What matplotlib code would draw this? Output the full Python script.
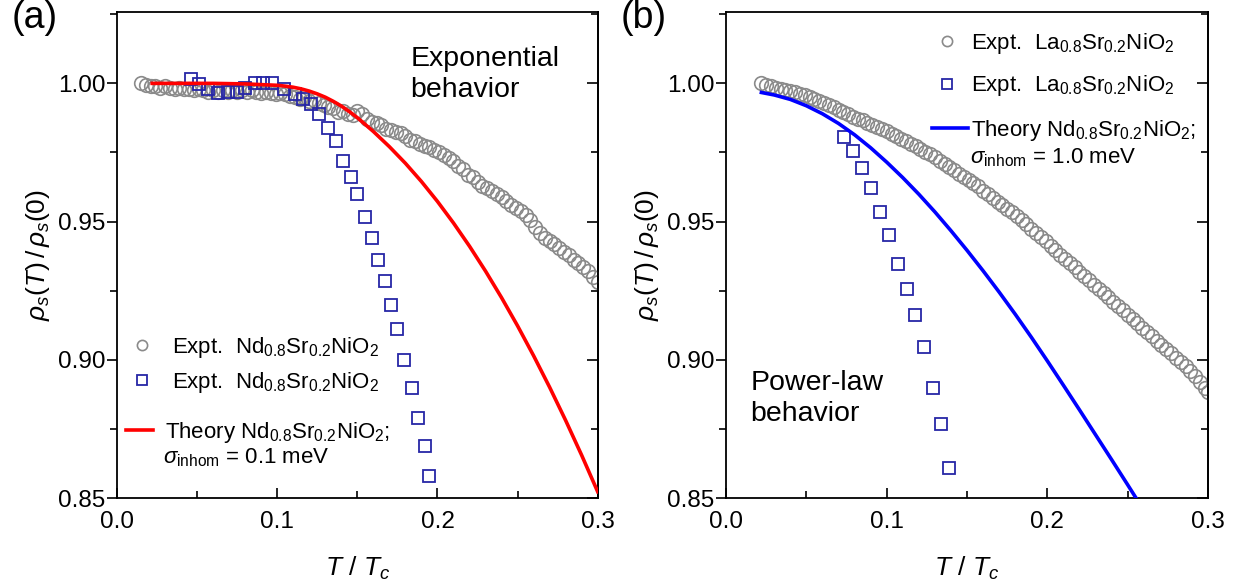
import numpy as np
import matplotlib.pyplot as plt
from matplotlib.ticker import MultipleLocator

plt.rcParams['font.family'] = 'Liberation Sans'
plt.rcParams['mathtext.fontset'] = 'custom'
plt.rcParams['mathtext.rm'] = 'Liberation Sans'
plt.rcParams['mathtext.it'] = 'Liberation Sans:italic'
plt.rcParams['mathtext.bf'] = 'Liberation Sans:bold'

# (a) Nd0.8Sr0.2NiO2 : circles
nd_circ_t = [0.015, 0.018, 0.021, 0.024, 0.027, 0.030, 0.033, 0.036, 0.039, 0.042,
             0.045, 0.048, 0.051, 0.054, 0.057, 0.060, 0.063, 0.066, 0.069, 0.072,
             0.075, 0.078, 0.081, 0.084, 0.087, 0.090, 0.093, 0.096, 0.099, 0.102,
             0.105, 0.108, 0.111, 0.114, 0.117, 0.120, 0.123, 0.126, 0.129, 0.132,
             0.135, 0.138, 0.141, 0.144, 0.147, 0.150, 0.153, 0.156, 0.159, 0.162,
             0.165, 0.168, 0.171, 0.174, 0.177, 0.180, 0.183, 0.186, 0.189, 0.192,
             0.195, 0.198, 0.201, 0.204, 0.207, 0.210, 0.213, 0.216, 0.219, 0.222,
             0.225, 0.228, 0.231, 0.234, 0.237, 0.240, 0.243, 0.246, 0.249, 0.252,
             0.255, 0.258, 0.261, 0.264, 0.267, 0.270, 0.273, 0.276, 0.279, 0.282,
             0.285, 0.288, 0.291, 0.294, 0.297, 0.300]
nd_circ_v = [1.0000, 0.9995, 0.9990, 0.9990, 0.9985, 0.9990, 0.9985, 0.9980, 0.9985, 0.9980,
             0.9980, 0.9975, 0.9980, 0.9975, 0.9970, 0.9975, 0.9970, 0.9975, 0.9970, 0.9975,
             0.9970, 0.9975, 0.9970, 0.9975, 0.9970, 0.9965, 0.9970, 0.9965, 0.9960, 0.9965,
             0.9960, 0.9955, 0.9950, 0.9945, 0.9950, 0.9935, 0.9940, 0.9930, 0.9920, 0.9915,
             0.9910, 0.9895, 0.9900, 0.9890, 0.9885, 0.9900, 0.9890, 0.9870, 0.9860, 0.9855,
             0.9850, 0.9835, 0.9830, 0.9825, 0.9820, 0.9810, 0.9795, 0.9790, 0.9780, 0.9775,
             0.9770, 0.9760, 0.9750, 0.9740, 0.9730, 0.9720, 0.9700, 0.9690, 0.9670, 0.9660,
             0.9645, 0.9630, 0.9620, 0.9610, 0.9600, 0.9590, 0.9575, 0.9560, 0.9550, 0.9540,
             0.9525, 0.9505, 0.9480, 0.9460, 0.9440, 0.9430, 0.9420, 0.9405, 0.9390, 0.9380,
             0.9360, 0.9350, 0.9335, 0.9320, 0.9300, 0.9280]

# (a) Nd0.8Sr0.2NiO2 : squares
nd_sq_t = [0.046, 0.051, 0.057, 0.063, 0.069, 0.075, 0.080, 0.086, 0.091, 0.097,
           0.104, 0.111, 0.116, 0.121, 0.126, 0.132, 0.137, 0.141, 0.146, 0.150,
           0.155, 0.159, 0.163, 0.167, 0.171, 0.175, 0.179, 0.184, 0.188, 0.192, 0.195]
nd_sq_v = [1.0014, 0.9996, 0.9980, 0.9964, 0.9970, 0.9970, 0.9985, 1.0000, 1.0000, 1.0000,
           0.9980, 0.9963, 0.9945, 0.9925, 0.9890, 0.9840, 0.9790, 0.9720, 0.9660, 0.9600,
           0.9516, 0.9440, 0.9360, 0.9285, 0.9200, 0.9110, 0.9000, 0.8900, 0.8790, 0.8690, 0.8580]

# (a) theory, sigma_inhom = 0.1 meV
th_a_t = [0.022, 0.04, 0.06, 0.08, 0.10, 0.105, 0.11, 0.115, 0.12, 0.125, 0.13, 0.135,
          0.14, 0.145, 0.15, 0.16, 0.17, 0.18, 0.19, 0.20, 0.21, 0.22, 0.23, 0.24,
          0.25, 0.26, 0.27, 0.28, 0.29, 0.30]
th_a_v = [1.0000, 1.0000, 1.0000, 0.9998, 0.9993, 0.9990, 0.9986, 0.9980, 0.9972, 0.9962,
          0.9950, 0.9935, 0.9918, 0.9898, 0.9876, 0.9826, 0.9771, 0.9711, 0.9645, 0.9573,
          0.9495, 0.9411, 0.9321, 0.9225, 0.9123, 0.9015, 0.8901, 0.8781, 0.8655, 0.8523]

# (b) La0.8Sr0.2NiO2 : circles
la_circ_t = [0.022, 0.025, 0.028, 0.031, 0.034, 0.037, 0.040, 0.043, 0.046, 0.049,
             0.052, 0.055, 0.058, 0.061, 0.064, 0.067, 0.070, 0.073, 0.076, 0.079,
             0.082, 0.085, 0.088, 0.091, 0.094, 0.097, 0.100, 0.103, 0.106, 0.109,
             0.112, 0.115, 0.118, 0.121, 0.124, 0.127, 0.130, 0.133, 0.136, 0.139,
             0.142, 0.145, 0.148, 0.151, 0.154, 0.157, 0.160, 0.163, 0.166, 0.169,
             0.172, 0.175, 0.178, 0.181, 0.184, 0.187, 0.190, 0.193, 0.196, 0.199,
             0.202, 0.205, 0.208, 0.211, 0.214, 0.217, 0.220, 0.223, 0.226, 0.229,
             0.232, 0.235, 0.238, 0.241, 0.244, 0.247, 0.250, 0.253, 0.256, 0.259,
             0.262, 0.265, 0.268, 0.271, 0.274, 0.277, 0.280, 0.283, 0.286, 0.289,
             0.292, 0.295, 0.298, 0.300]
la_circ_v = [1.0000, 0.9995, 0.9990, 0.9985, 0.9980, 0.9975, 0.9972, 0.9968, 0.9962, 0.9958,
             0.9950, 0.9943, 0.9938, 0.9930, 0.9922, 0.9915, 0.9905, 0.9897, 0.9890, 0.9880,
             0.9872, 0.9866, 0.9858, 0.9850, 0.9843, 0.9834, 0.9827, 0.9818, 0.9810, 0.9800,
             0.9790, 0.9782, 0.9772, 0.9762, 0.9752, 0.9745, 0.9733, 0.9720, 0.9708, 0.9697,
             0.9685, 0.9672, 0.9662, 0.9650, 0.9640, 0.9628, 0.9612, 0.9600, 0.9587, 0.9572,
             0.9560, 0.9547, 0.9533, 0.9520, 0.9505, 0.9492, 0.9475, 0.9460, 0.9443, 0.9429,
             0.9412, 0.9398, 0.9381, 0.9366, 0.9350, 0.9335, 0.9318, 0.9304, 0.9288, 0.9272,
             0.9257, 0.9241, 0.9226, 0.9210, 0.9194, 0.9179, 0.9163, 0.9148, 0.9132, 0.9116,
             0.9101, 0.9085, 0.9070, 0.9054, 0.9038, 0.9023, 0.9007, 0.8992, 0.8976, 0.8960,
             0.8940, 0.8920, 0.8900, 0.8885]

# (b) La0.8Sr0.2NiO2 : squares
la_sq_t = [0.0734, 0.079, 0.0846, 0.090, 0.096, 0.1015, 0.107, 0.1125, 0.1176, 0.123,
           0.1288, 0.134, 0.139]
la_sq_v = [0.9805, 0.9754, 0.9693, 0.9620, 0.9534, 0.9450, 0.9345, 0.9255, 0.9164, 0.9045,
           0.8900, 0.8767, 0.8610]

# (b) theory, sigma_inhom = 1.0 meV
th_b_t = [0.022, 0.03, 0.04, 0.05, 0.06, 0.07, 0.08, 0.09, 0.10, 0.11, 0.12, 0.13, 0.14,
          0.15, 0.16, 0.17, 0.18, 0.19, 0.20, 0.21, 0.22, 0.23, 0.24, 0.25, 0.26]
th_b_v = [0.9967, 0.9958, 0.9942, 0.9919, 0.9890, 0.9855, 0.9814, 0.9767, 0.9715, 0.9659,
          0.9599, 0.9535, 0.9467, 0.9396, 0.9322, 0.9245, 0.9165, 0.9082, 0.8996, 0.8908,
          0.8819, 0.8729, 0.8639, 0.8548, 0.8456]

gray = '#8a8a8a'
navy = '#2626a6'
fs = 17.5
lfs = 16

fig = plt.figure(figsize=(12.39, 5.86), dpi=100)
ax1 = fig.add_axes([0.0944, 0.150, 0.388, 0.829])
ax2 = fig.add_axes([0.586, 0.150, 0.389, 0.829])


def style(ax):
    ax.set_xlim(0, 0.3)
    ax.set_ylim(0.85, 1.0257)
    ax.xaxis.set_major_locator(MultipleLocator(0.1))
    ax.xaxis.set_minor_locator(MultipleLocator(0.05))
    ax.yaxis.set_major_locator(MultipleLocator(0.05))
    ax.yaxis.set_minor_locator(MultipleLocator(0.025))
    ax.xaxis.set_major_formatter(plt.FormatStrFormatter('%.1f'))
    ax.yaxis.set_major_formatter(plt.FormatStrFormatter('%.2f'))
    ax.tick_params(axis='x', which='both', direction='in', labelsize=fs, pad=9)
    ax.tick_params(axis='y', which='both', direction='out', labelsize=fs, pad=1.5)
    ax.tick_params(which='major', length=7, width=1.2)
    ax.tick_params(which='minor', length=5, width=1.2)
    for s in ax.spines.values():
        s.set_linewidth(1.3)
    # mirrored ticks on the right spine
    sec = ax.secondary_yaxis('right')
    sec.yaxis.set_major_locator(MultipleLocator(0.05))
    sec.yaxis.set_minor_locator(MultipleLocator(0.025))
    sec.tick_params(which='both', direction='in', labelright=False, width=1.2)
    sec.tick_params(which='major', length=8)
    sec.tick_params(which='minor', length=5)
    sec.spines['right'].set_linewidth(1.3)
    ax.set_xlabel(r'$T\ /\ T_c$', fontsize=19, labelpad=16)
    ax.set_ylabel(r'$\rho_s(T)\,/\,\rho_s(0)$', fontsize=19, labelpad=4)


def legends(ax, handles, pos_a, pos_b, sep, pad_a, pad_b, hlen_b):
    leg = ax.legend(handles=handles[:2], loc='center left', bbox_to_anchor=pos_a,
                    frameon=False, fontsize=lfs, handlelength=1.2, handletextpad=pad_a,
                    labelspacing=sep, markerscale=0.75, borderaxespad=0)
    ax.add_artist(leg)
    ax.legend(handles=handles[2:], loc='center left', bbox_to_anchor=pos_b,
              frameon=False, fontsize=lfs, handlelength=hlen_b, handletextpad=pad_b,
              borderaxespad=0)


# panel (a)
c1, = ax1.plot(nd_circ_t, nd_circ_v, 'o', ms=9.8, mfc='none', mec=gray, mew=1.2,
               label=r'Expt.  Nd$_{0.8}$Sr$_{0.2}$NiO$_2$')
s1, = ax1.plot(nd_sq_t, nd_sq_v, 's', ms=9.2, mfc='none', mec=navy, mew=1.3,
               label=r'Expt.  Nd$_{0.8}$Sr$_{0.2}$NiO$_2$')
l1, = ax1.plot(th_a_t, th_a_v, '-', color='#ff0000', lw=2.6, zorder=5,
               label=r'Theory Nd$_{0.8}$Sr$_{0.2}$NiO$_2$;')
style(ax1)
legends(ax1, [c1, s1, l1], (0.005, 0.2737), (0.0, 0.136), 0.45, 0.75, 0.55, 1.2)
ax1.text(0.0956, 0.0835, r'$\sigma_{\rm inhom}$ = 0.1 meV', transform=ax1.transAxes,
         fontsize=lfs, va='center')
ax1.text(0.61, 0.872, 'Exponential\nbehavior', transform=ax1.transAxes,
         fontsize=20.5, va='center', linespacing=1.25)
fig.text(0.009, 0.969, '(a)', fontsize=27, va='center')

# panel (b)
c2, = ax2.plot(la_circ_t, la_circ_v, 'o', ms=9.8, mfc='none', mec=gray, mew=1.2,
               label=r'Expt.  La$_{0.8}$Sr$_{0.2}$NiO$_2$')
s2, = ax2.plot(la_sq_t, la_sq_v, 's', ms=9.2, mfc='none', mec=navy, mew=1.3,
               label=r'Expt.  La$_{0.8}$Sr$_{0.2}$NiO$_2$')
l2, = ax2.plot(th_b_t, th_b_v, '-', color='#0000ff', lw=2.6, zorder=5,
               label=r'Theory Nd$_{0.8}$Sr$_{0.2}$NiO$_2$;')
style(ax2)
legends(ax2, [c2, s2, l2], (0.413, 0.892), (0.409, 0.757), 0.77, 0.45, 0.15, 1.6)
ax2.text(0.506, 0.700, r'$\sigma_{\rm inhom}$ = 1.0 meV', transform=ax2.transAxes,
         fontsize=lfs, va='center')
ax2.text(0.05, 0.205, 'Power-law\nbehavior', transform=ax2.transAxes,
         fontsize=20.5, va='center', linespacing=1.25)
fig.text(0.501, 0.969, '(b)', fontsize=27, va='center')

fig.savefig('out.png', dpi=100)
